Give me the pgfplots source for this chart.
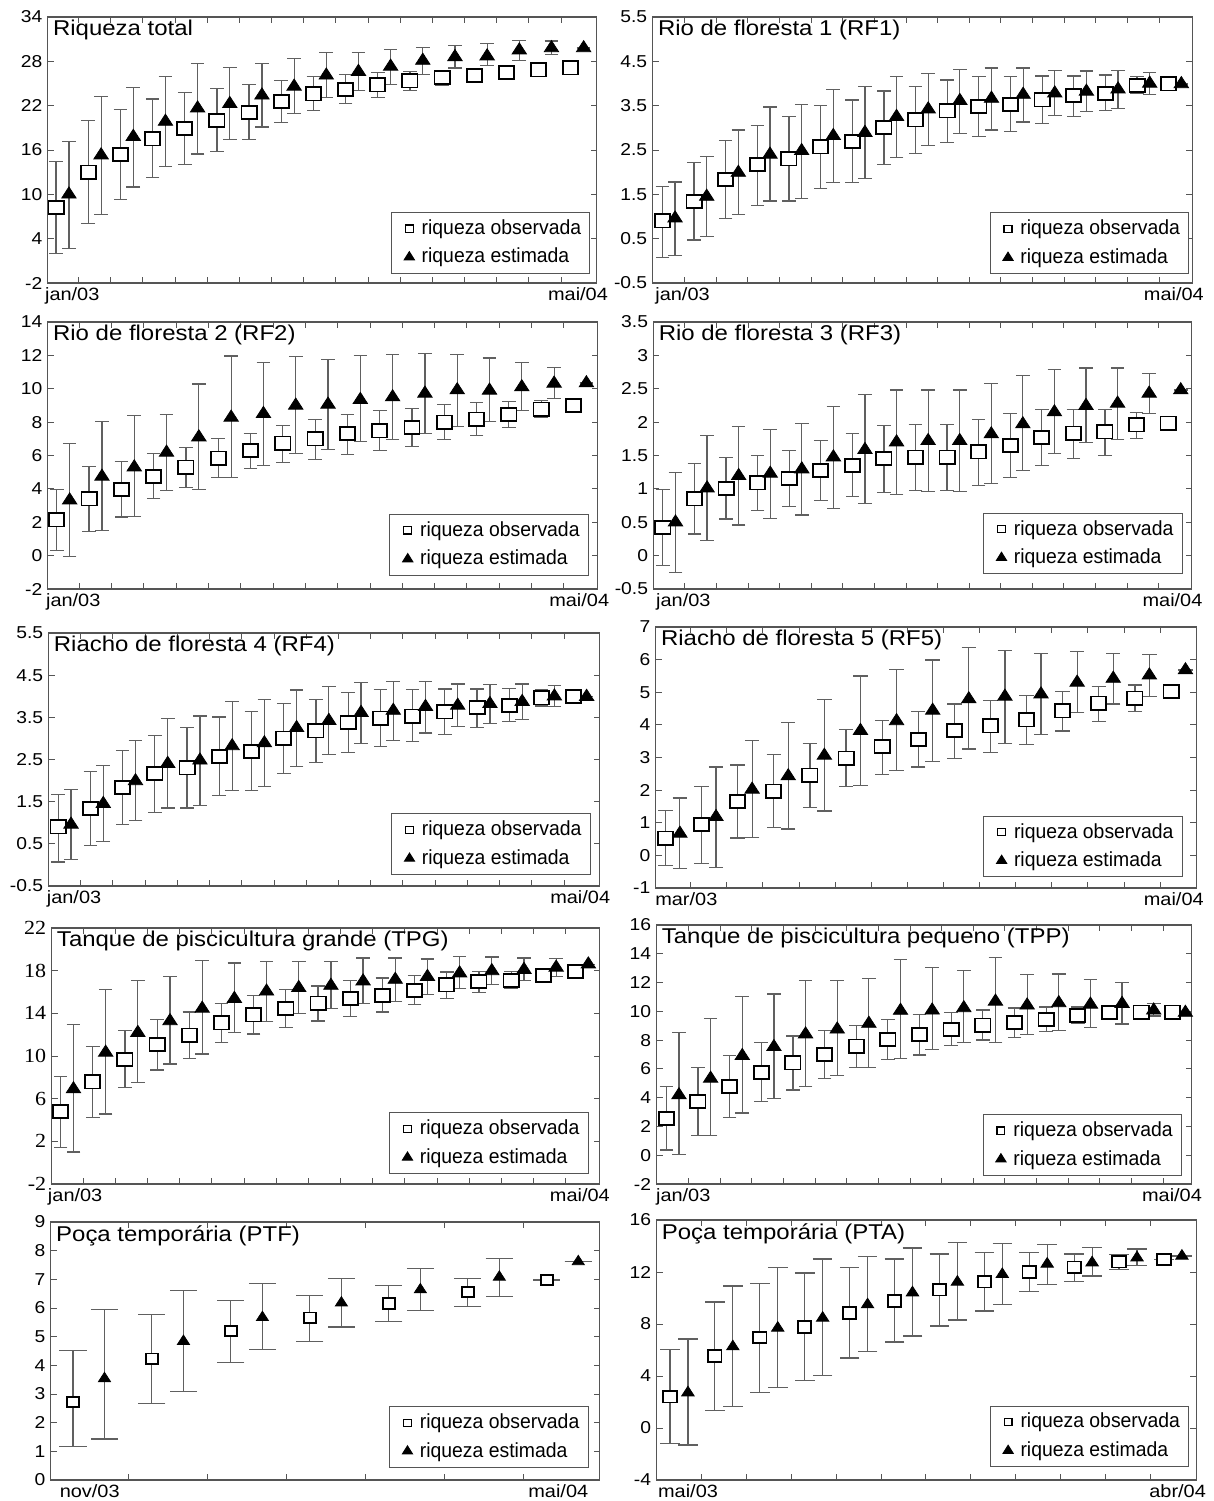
\documentclass[border=0pt]{standalone}
\usepackage{fontspec}
\setmainfont{Liberation Sans}
\newfontfamily\wide[FakeStretch=1.12]{Liberation Sans}
\newfontfamily\legfont[FakeStretch=0.95]{Liberation Sans}
\newfontfamily\serifnum[FakeStretch=1.1]{Liberation Serif}
\usepackage{pgfplots}
\pgfplotsset{compat=1.18}
\usepackage{pgfplotstable}

\definecolor{barc}{HTML}{606060}
\definecolor{framec}{HTML}{555555}

% ---------- data: x y low high ----------
\pgfplotstableread{
x y l h
0 8.2 2.0 14.4
1 13.0 6.0 20.0
2 15.4 9.3 21.5
3 17.5 12.25 22.9
4 18.9 14.0 23.8
5 20.0 15.8 24.3
6 21.1 17.45 24.9
7 22.55 19.7 25.45
8 23.6 21.4 26.0
9 24.2 22.3 26.2
10 24.8 23.1 26.5
11 25.35 24.1 26.6
12 25.8 24.8 26.8
13 26.05 25.3 26.95
14 26.5 25.9 27.0
15 26.85 26.85 26.85
16 27.1 27.1 27.1
}\totO
\pgfplotstableread{
x y l h
0.4 10.0 2.65 17.1
1.4 15.3 7.3 23.2
2.4 17.8 11.0 24.5
3.4 19.85 13.8 26.0
4.4 21.65 15.45 27.75
5.4 22.25 17.45 27.2
6.4 23.4 19.1 27.7
7.4 24.6 20.95 28.35
8.4 26.1 23.1 29.25
9.4 26.6 24.0 29.25
10.4 27.3 24.9 29.6
11.4 28.1 26.25 29.9
12.4 28.6 27.1 30.1
13.4 28.7 27.45 30.4
14.4 29.5 28.1 30.8
15.4 29.8 28.9 30.75
16.4 29.8 29.8 29.8
}\totE
\pgfplotstableread{
x y l h
0 0.90 0.07 1.67
1 1.34 0.47 2.21
2 1.84 0.95 2.71
3 2.17 1.25 3.06
4 2.30 1.35 3.25
5 2.57 1.64 3.51
6 2.69 1.76 3.63
7 3.01 2.17 3.83
8 3.18 2.43 3.93
9 3.38 2.67 4.08
10 3.48 2.80 4.16
11 3.53 2.92 4.16
12 3.63 3.10 4.17
13 3.73 3.26 4.17
14 3.78 3.40 4.19
15 3.96 3.77 4.16
16 3.99 3.99 3.99
}\rfaO
\pgfplotstableread{
x y l h
0.4 0.96 0.12 1.78
1.4 1.45 0.55 2.35
2.4 1.99 1.05 2.95
3.4 2.40 1.35 3.47
4.4 2.48 1.40 3.53
5.4 2.82 1.77 3.87
6.4 2.89 1.86 3.93
7.4 3.25 2.33 4.15
8.4 3.42 2.61 4.23
9.4 3.61 2.88 4.32
10.4 3.66 2.95 4.35
11.4 3.75 3.13 4.35
12.4 3.78 3.28 4.29
13.4 3.82 3.36 4.28
14.4 3.87 3.44 4.29
15.4 4.00 3.76 4.25
16.4 3.99 3.99 3.99
}\rfaE
\pgfplotstableread{
x y l h
0 2.14 0.3 3.98
1 3.4 1.44 5.32
2 3.96 2.32 5.62
3 4.76 3.4 6.12
4 5.3 4.06 6.5
5 5.84 4.7 7.04
6 6.3 5.24 7.32
7 6.74 5.6 7.8
8 7.0 5.78 8.16
9 7.32 6.08 8.48
10 7.48 6.3 8.7
11 7.68 6.54 8.8
12 8.0 6.94 9.08
13 8.18 7.22 9.16
14 8.46 7.66 9.26
15 8.78 8.26 9.3
16 9.0 9.0 9.0
}\rfbO
\pgfplotstableread{
x y l h
0.4 3.32 -0.06 6.72
1.4 4.74 1.5 8.04
2.4 5.3 2.34 8.38
3.4 6.18 3.92 8.48
4.4 7.1 3.96 10.28
5.4 8.28 4.68 11.96
6.4 8.5 5.42 11.58
7.4 9.0 6.1 11.92
8.4 9.06 6.36 11.76
9.4 9.34 6.82 11.98
10.4 9.5 6.96 12.04
11.4 9.72 7.34 12.12
12.4 9.92 7.74 12.06
13.4 9.9 8.06 11.84
14.4 10.1 8.68 11.56
15.4 10.32 9.44 11.28
16.4 10.34 10.34 10.34
}\rfbE
\pgfplotstableread{
x y l h
0 0.42 -0.15 0.985
1 0.85 0.325 1.38
2 1.01 0.55 1.475
3 1.09 0.675 1.505
4 1.16 0.74 1.57
5 1.275 0.82 1.72
6 1.35 0.88 1.83
7 1.455 0.95 1.95
8 1.475 0.975 1.97
9 1.475 0.975 1.97
10 1.555 1.055 2.045
11 1.65 1.175 2.125
12 1.77 1.355 2.185
13 1.835 1.46 2.195
14 1.855 1.505 2.195
15 1.96 1.755 2.145
16 1.985 1.985 1.985
}\rfcO
\pgfplotstableread{
x y l h
0.4 0.5 -0.255 1.25
1.4 1.01 0.225 1.8
2.4 1.195 0.46 1.93
3.4 1.23 0.56 1.895
4.4 1.295 0.61 1.98
5.4 1.475 0.71 2.24
6.4 1.585 0.775 2.41
7.4 1.7 0.91 2.48
8.4 1.72 0.955 2.48
9.4 1.72 0.955 2.48
10.4 1.82 1.085 2.575
11.4 1.97 1.275 2.695
12.4 2.15 1.53 2.785
13.4 2.245 1.7 2.81
14.4 2.28 1.745 2.81
15.4 2.43 2.135 2.725
16.4 2.48 2.48 2.48
}\rfcE
\pgfplotstableread{
x y l h
0 0.53 -0.31 1.37
1 0.94 -0.25 2.12
2 1.66 0.53 2.77
3 1.97 0.86 3.09
4 2.46 1.47 3.44
5 2.98 2.1 3.85
6 3.33 2.49 4.14
7 3.56 2.71 4.4
8 3.82 2.96 4.64
9 3.97 3.16 4.75
10 4.15 3.39 4.9
11 4.43 3.81 5.02
12 4.67 4.11 5.17
13 4.82 4.42 5.22
14 5.02 5.02 5.02
}\rfeO
\pgfplotstableread{
x y l h
0.4 0.67 -0.41 1.76
1.4 1.18 -0.36 2.71
2.4 2.02 0.54 3.51
3.4 2.43 0.81 4.07
4.4 3.06 1.36 4.78
5.4 3.82 2.15 5.5
6.4 4.12 2.6 5.7
7.4 4.44 2.87 5.99
8.4 4.79 3.26 6.36
9.4 4.87 3.43 6.29
10.4 4.94 3.7 6.18
11.4 5.3 4.37 6.26
12.4 5.42 4.64 6.18
13.4 5.52 4.86 6.16
14.4 5.68 5.68 5.68
}\rfeE
\pgfplotstableread{
x y l h
0 4.8 1.43 8.09
1 7.58 4.27 10.87
2 9.67 7.04 12.39
3 11.07 8.69 13.4
4 11.97 9.79 14.12
5 13.1 11.28 14.93
6 13.85 12.06 15.64
7 14.48 12.69 16.24
8 14.96 13.28 16.57
9 15.4 13.67 17.07
10 15.7 14.12 17.31
11 16.15 14.81 17.52
12 16.66 15.4 17.88
13 16.99 15.97 17.94
14 17.1 16.36 17.91
15 17.55 16.9 18.21
16 17.94 17.94 17.94
}\tpgO
\pgfplotstableread{
x y l h
0.4 6.9 1.01 12.99
1.4 10.33 4.57 16.27
2.4 12.18 7.49 17.07
3.4 13.28 9.25 17.46
4.4 14.45 10.18 18.93
5.4 15.37 12.24 18.72
6.4 16.06 13.25 18.87
7.4 16.39 14.0 18.87
8.4 16.6 14.48 18.84
9.4 17.01 14.93 19.19
10.4 17.16 15.13 19.19
11.4 17.43 15.76 19.1
12.4 17.76 16.3 19.31
13.4 17.97 16.72 19.28
14.4 18.09 17.07 19.19
15.4 18.3 17.43 19.13
16.4 18.6 18.6 18.6
}\tpgE
\pgfplotstableread{
x y l h
0 2.56 0.37 4.76
1 3.72 1.36 6.07
2 4.76 2.61 6.95
3 5.75 3.72 7.81
4 6.42 4.53 8.29
5 7.0 5.31 8.68
6 7.58 6.07 9.03
7 8.06 6.67 9.45
8 8.41 6.97 9.77
9 8.75 7.64 9.91
10 9.05 8.01 10.09
11 9.21 8.18 10.23
12 9.45 8.61 10.3
13 9.72 9.19 10.3
14 9.91 9.91 9.91
15 9.95 9.95 9.95
16 9.95 9.95 9.95
}\tppO
\pgfplotstableread{
x y l h
0.4 4.18 0.07 8.55
1.4 5.33 1.36 9.52
2.4 6.91 2.93 11.04
3.4 7.53 3.95 11.2
4.4 8.41 4.78 12.17
5.4 8.75 5.54 12.15
6.4 9.15 6.1 12.26
7.4 10.05 6.72 13.6
8.4 10.07 7.34 13.05
9.4 10.23 7.83 12.84
10.4 10.69 7.83 13.72
11.4 10.42 8.38 12.54
12.4 10.58 8.66 12.59
13.4 10.48 8.89 12.19
14.4 10.53 9.12 12.01
15.4 10.07 9.68 10.53
16.4 9.91 9.91 9.91
}\tppE
\pgfplotstableread{
x y l h
0 2.72 1.17 4.53
1 4.23 2.68 5.77
2 5.2 4.1 6.27
3 5.66 4.83 6.45
4 6.16 5.54 6.78
5 6.56 6.05 7.04
6 6.98 6.98 6.98
}\ptfO
\pgfplotstableread{
x y l h
0.4 3.54 1.43 5.94
1.4 4.84 3.1 6.6
2.4 5.67 4.54 6.85
3.4 6.18 5.34 7.02
4.4 6.64 5.9 7.38
5.4 7.08 6.4 7.73
6.4 7.62 7.62 7.62
}\ptfE
\pgfplotstableread{
x y l h
0 2.41 -1.18 6.05
1 5.54 1.36 9.69
2 6.97 2.74 11.1
3 7.77 3.67 11.92
4 8.85 5.38 12.33
5 9.77 6.62 13.0
6 10.64 7.85 13.38
7 11.26 9.0 13.51
8 12.0 10.49 13.49
9 12.36 11.28 13.38
10 12.79 12.2 13.36
11 12.97 12.97 12.97
}\ptaO
\pgfplotstableread{
x y l h
0.4 2.72 -1.31 6.85
1.4 6.26 1.64 10.92
2.4 7.69 3.13 12.33
3.4 8.46 4.03 13.0
4.4 9.49 5.9 13.2
5.4 10.41 7.08 13.85
6.4 11.23 8.31 14.26
7.4 11.82 9.49 14.18
8.4 12.62 11.03 14.13
9.4 12.72 11.69 13.9
10.4 13.1 12.51 13.77
11.4 13.23 13.23 13.23
}\ptaE

\pgfplotsset{
  panel/.style={
    scale only axis, anchor=north west, clip=false,
    axis line style={framec, line width=0.6pt},
    tick align=inside, major tick length=3pt,
    tick style={framec, line width=0.5pt},
    xtick pos=both, ytick pos=both, yticklabel pos=left,
    xticklabels={},
    yticklabel style={font=\wide\fontsize{8.6}{10}\selectfont, inner sep=2.5pt},
    /pgf/number format/assume math mode=true,
    legend style={anchor=south east,
      draw=framec, line width=0.5pt, font=\legfont\fontsize{10.2}{11}\selectfont,
      inner xsep=3pt, inner ysep=2.2pt, row sep=2.6pt,
      nodes={inner sep=1.4pt}},
    legend cell align=left,
  },
  lp/.style 2 args={legend style={at={(rel axis cs:#1,#2)}}},
  ebar/.style={draw=none, mark=none, forget plot,
    error bars/.cd, y dir=both, y explicit,
    error bar style={draw=barc, line width=0.6pt},
    error mark options={draw=barc, line width=0.6pt, mark size=#1, rotate=90}},
  obs/.style={only marks, forget plot, mark=square*, mark size=3.3pt,
    mark options={fill=white, draw=black, line width=0.9pt, xscale=1.15}},
  est/.style={only marks, forget plot, mark=triangle*, mark size=3.7pt,
    mark options={fill=black, draw=black, xscale=1.12}},
  legobs/.style={only marks, mark=square*, mark size=1.8pt,
    mark options={fill=white, draw=black, line width=0.6pt, xscale=1.1},
    legend image code/.code={\path (0cm,-0.1cm) (0.36cm,0.1cm); \draw[##1] plot coordinates {(0.2cm,0cm)};}},
  legest/.style={only marks, mark=triangle*, mark size=2.7pt,
    mark options={fill=black, draw=black, xscale=1.08},
    legend image code/.code={\path (0cm,-0.1cm) (0.36cm,0.1cm); \draw[##1] plot coordinates {(0.2cm,0cm)};}},
}
% #1 obs table, #2 est table, #3 cap half-width, #4 obs mark size, #5 est mark size
\newcommand\series[5]{%
  \addplot[ebar=#3] table[x=x, y=y, y error plus expr=\thisrow{h}-\thisrow{y}, y error minus expr=\thisrow{y}-\thisrow{l}] {#1};
  \addplot[ebar=#3] table[x=x, y=y, y error plus expr=\thisrow{h}-\thisrow{y}, y error minus expr=\thisrow{y}-\thisrow{l}] {#2};
  \addplot[obs, mark size=#4] table[x=x, y=y] {#1};
  \addplot[est, mark size=#5] table[x=x, y=y] {#2};
}
\newcommand\ptitle[1]{\node[anchor=north west, inner sep=1.5pt, xshift=1pt, font=\wide\fontsize{10.7}{12}\selectfont] at (rel axis cs:0,1) {#1};}
% #1 left label, #2 its shift, #3 right label, #4 its shift
\newcommand\dates[4]{%
  \node[anchor=north west, inner sep=0pt, xshift=#2, yshift=-2pt, font=\wide\fontsize{8.9}{10}\selectfont] at (rel axis cs:0,0) {#1};
  \node[anchor=north east, inner sep=0pt, xshift=#4, yshift=-2pt, font=\wide\fontsize{8.9}{10}\selectfont] at (rel axis cs:1,0) {#3};}
\newcommand\leg{\addlegendimage{legobs}\addlegendentry{riqueza observada}%
  \addlegendimage{legest}\addlegendentry{riqueza estimada}}

\begin{document}
\begin{tikzpicture}
\useasboundingbox (0,0) rectangle (607pt,-750.5pt);

% 1 Riqueza total
\begin{axis}[panel, lp={0.989}{0.035}, at={(23.85pt,-8.5pt)}, width=274.4pt, height=133pt,
  xmin=-0.26, xmax=16.8, xtick={0.7,1.7,...,15.7},
  ymin=-2, ymax=34, ytick={-2,4,...,34}]
\series{\totO}{\totE}{3.4pt}{3.3pt}{3.7pt}
\leg
\ptitle{Riqueza total}
\dates{jan/03}{-1.5pt}{mai/04}{5.9pt}
\end{axis}

% 2 RF1
\begin{axis}[panel, lp={0.994}{0.033}, at={(326.3pt,-8.5pt)}, width=269.9pt, height=133pt,
  xmin=-0.31, xmax=16.75, xtick={0.7,1.7,...,15.7},
  ymin=-0.5, ymax=5.5, ytick={-0.5,0.5,1.5,2.5,3.5,4.5,5.5}]
\series{\rfaO}{\rfaE}{3.4pt}{3.3pt}{3.7pt}
\leg
\ptitle{Rio de floresta 1 (RF1)}
\dates{jan/03}{1.2pt}{mai/04}{5.9pt}
\end{axis}

% 3 RF2
\begin{axis}[panel, lp={0.984}{0.05}, at={(23.85pt,-161pt)}, width=275pt, height=133.5pt,
  xmin=-0.28, xmax=16.75, xtick={0.7,1.7,...,15.7},
  ymin=-2, ymax=14, ytick={-2,0,...,14}]
\series{\rfbO}{\rfbE}{3.4pt}{3.3pt}{3.7pt}
\leg
\ptitle{Rio de floresta 2 (RF2)}
\dates{jan/03}{-1pt}{mai/04}{5.9pt}
\end{axis}

% 4 RF3
\begin{axis}[panel, lp={0.983}{0.055}, at={(326.7pt,-161pt)}, width=269.2pt, height=133.5pt,
  xmin=-0.3, xmax=16.75, xtick={0.7,1.7,...,15.7},
  ymin=-0.5, ymax=3.5, ytick={-0.5,0,0.5,1,1.5,2,2.5,3,3.5}]
\series{\rfcO}{\rfcE}{3.4pt}{3.3pt}{3.7pt}
\leg
\ptitle{Rio de floresta 3 (RF3)}
\dates{jan/03}{1.2pt}{mai/04}{5.5pt}
\end{axis}

% 5 RF4
\begin{axis}[panel, lp={0.984}{0.043}, at={(24.25pt,-316.5pt)}, width=275.5pt, height=126.5pt,
  xmin=-0.3, xmax=16.8, xtick={0.7,1.7,...,15.7},
  ymin=-0.5, ymax=5.5, ytick={-0.5,0.5,1.5,2.5,3.5,4.5,5.5}]
\series{\rfaO}{\rfaE}{3.4pt}{3.3pt}{3.7pt}
\leg
\ptitle{Riacho de floresta 4 (RF4)}
\dates{jan/03}{-1pt}{mai/04}{5.5pt}
\end{axis}

% 6 RF5
\begin{axis}[panel, lp={0.975}{0.041}, at={(327.85pt,-313.5pt)}, width=270.3pt, height=130.5pt,
  xmin=-0.27, xmax=14.7, xtick={0.7,1.7,...,13.7},
  ymin=-1, ymax=7, ytick={-1,0,...,7}]
\series{\rfeO}{\rfeE}{3.6pt}{3.3pt}{3.7pt}
\leg
\ptitle{Riacho de floresta 5 (RF5)}
\dates{mar/03}{-0.4pt}{mai/04}{3.9pt}
\end{axis}

% 7 TPG
\begin{axis}[panel, lp={0.98}{0.039}, at={(25.8pt,-464pt)}, width=274pt, height=128pt,
  xmin=-0.28, xmax=16.75, xtick={0.7,1.7,...,15.7},
  ymin=-2, ymax=22, ytick={-2,2,...,22},
  yticklabel style={font=\serifnum\fontsize{10}{11}\selectfont}]
\series{\tpgO}{\tpgE}{3.4pt}{3.3pt}{3.7pt}
\leg
\ptitle{Tanque de piscicultura grande (TPG)}
\dates{jan/03}{-2pt}{mai/04}{5.3pt}
\end{axis}

% 8 TPP
\begin{axis}[panel, lp={0.982}{0.032}, at={(328.25pt,-462.5pt)}, width=267.6pt, height=129.5pt,
  xmin=-0.31, xmax=16.6, xtick={0.7,1.7,...,15.7},
  ymin=-2, ymax=16, ytick={-2,0,...,16}]
\series{\tppO}{\tppE}{3.4pt}{3.3pt}{3.7pt}
\leg
\ptitle{Tanque de piscicultura pequeno (TPP)}
\dates{jan/03}{-0.4pt}{mai/04}{5.3pt}
\end{axis}

% 9 PTF
\begin{axis}[panel, lp={0.98}{0.047}, at={(25.4pt,-611pt)}, width=274.4pt, height=129pt,
  xmin=-0.28, xmax=6.67, xtick={0.7,1.7,...,5.7},
  ymin=0, ymax=9, ytick={0,1,...,9}]
\series{\ptfO}{\ptfE}{6.8pt}{2.6pt}{3.1pt}
\leg
\ptitle{Poça temporária (PTF)}
\dates{nov/03}{4.3pt}{mai/04}{-5.5pt}
\end{axis}

% 10 PTA
\begin{axis}[panel, lp={0.987}{0.049}, at={(328.25pt,-610pt)}, width=269.9pt, height=130pt,
  xmin=-0.3, xmax=11.72, xtick={0.7,1.7,...,10.7},
  ymin=-4, ymax=16, ytick={-4,0,...,16}]
\series{\ptaO}{\ptaE}{4.9pt}{2.9pt}{3.2pt}
\leg
\ptitle{Poça temporária (PTA)}
\dates{mai/03}{0.6pt}{abr/04}{5pt}
\end{axis}
\end{tikzpicture}
\end{document}
